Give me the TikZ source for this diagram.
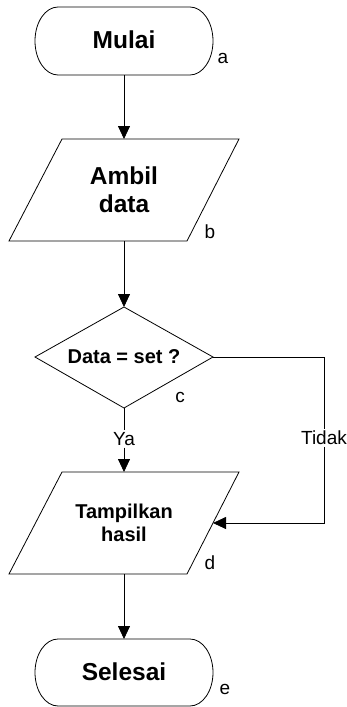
\documentclass[tikz,border=0pt]{standalone}
\usepackage{fontspec}
\setmainfont{Liberation Sans}
\usetikzlibrary{arrows.meta}
\begin{document}
\begin{tikzpicture}[x=1pt,y=-1pt,line width=0.8pt,
  big/.style={font=\fontsize{24.5}{28}\selectfont\bfseries,align=center,inner sep=0pt},
  mid/.style={font=\fontsize{20}{23}\selectfont\bfseries,align=center,inner sep=0pt},
  lab/.style={font=\fontsize{19}{22}\selectfont,inner sep=0pt},
  cut/.style={font=\fontsize{19}{22}\selectfont,fill=white,inner sep=1.5pt},
  flow/.style={-{Triangle[length=13pt,width=12pt]}}]
\useasboundingbox (0,0) rectangle (347,707);
% shapes
\draw (58,7) -- (190,7) arc(-90:90:23 and 34) -- (58,75) arc(90:270:23 and 34) -- cycle;
\node[big] (mulai) at (124,40) {Mulai};
\node[lab] (la) at (223,58) {a};
\draw (62,139) -- (239,139) -- (187,241) -- (9,241) -- cycle;
\node[big] (ambil) at (124,190) {Ambil\\data};
\node[lab] (lb) at (210,232) {b};
\draw (124,307) -- (213,357) -- (124,408) -- (35,357) -- cycle;
\node[mid] (cond) at (124,357) {Data = set ?};
\node[lab] (lc) at (180,397) {c};
\draw (62,472) -- (239,472) -- (187,574) -- (9,574) -- cycle;
\node[mid] (tampil) at (124,523) {Tampilkan\\hasil};
\node[lab] (ld) at (210,563) {d};
\draw (58,639) -- (190,639) arc(-90:90:23 and 33.5) -- (58,706) arc(90:270:23 and 33.5) -- cycle;
\node[big] (selesai) at (124,672) {Selesai};
\node[lab] (le) at (225,689) {e};
% anchor points
\coordinate (as) at (124,75);
\coordinate (bn) at (124,139);
\coordinate (bs) at (124,241);
\coordinate (cn) at (124,307);
\coordinate (cs) at (124,408);
\coordinate (ce) at (213,357);
\coordinate (dn) at (124,472);
\coordinate (de) at (213,523);
\coordinate (ds) at (124,574);
\coordinate (en) at (124,639);
\node[cut] (ya) at (124,439) {Ya};
\node[cut] (tidak) at (324,438) {Tidak};
% connectors
\draw[flow] (as) -- (bn);
\draw[flow] (bs) -- (cn);
\draw (cs) -- (ya.north);
\draw[flow] (ya.south) -- (dn);
\draw (ce) -| (tidak.north);
\draw[flow] (tidak.south) |- (de);
\draw[flow] (ds) -- (en);
\end{tikzpicture}
\end{document}
